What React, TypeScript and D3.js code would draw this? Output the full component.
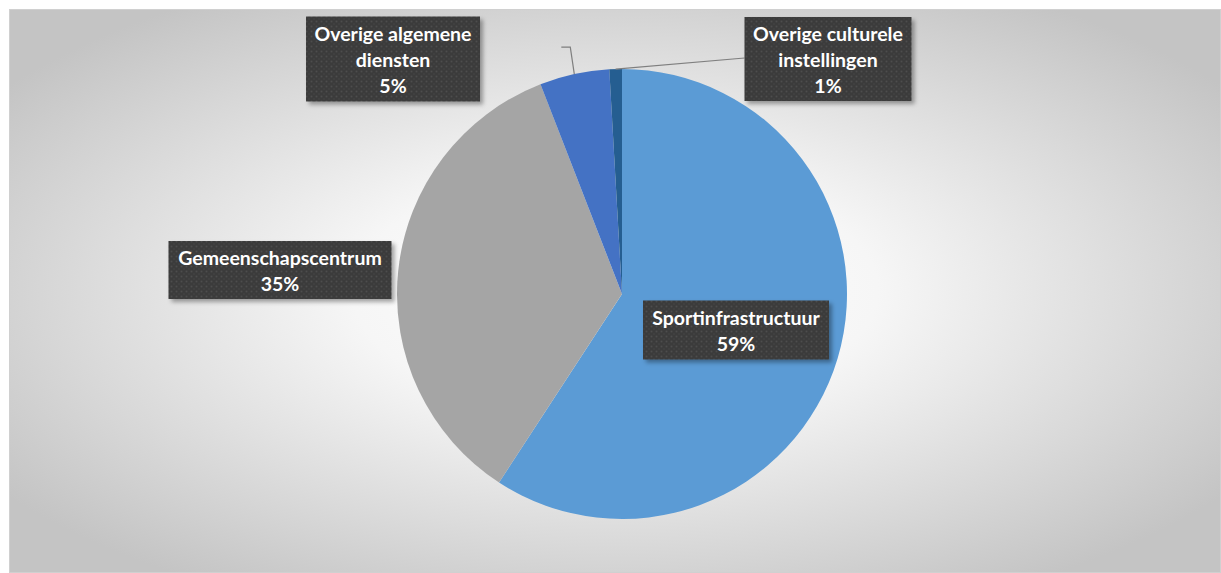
import React from "react";
import * as d3 from "d3";

const categories = [
  "Sportinfrastructuur",
  "Gemeenschapscentrum",
  "Overige algemene diensten",
  "Overige culturele instellingen",
];
const values = [59.2, 34.9, 5.0, 0.9];
const percentLabels = ["59%", "35%", "5%", "1%"];
const labelLines = [
  ["Sportinfrastructuur"],
  ["Gemeenschapscentrum"],
  ["Overige algemene", "diensten"],
  ["Overige culturele", "instellingen"],
];
const colors = ["#5B9BD5", "#A5A5A5", "#4472C4", "#255E91"];

const W = 1221;
const H = 573;
const cx = 622;
const cy = 294;
const R = 225;

// label box layout (center offsets from pie center, box size)
const boxLayout = [
  { dx: 114, dy: 36, w: 186, h: 59 },
  { dx: -342, dy: -24, w: 223, h: 58 },
  { dx: -229, dy: -235, w: 174, h: 85 },
  { dx: 206, dy: -235, w: 167, h: 84 },
];

export default function App() {
  const pie = d3.pie<number>().sort(null).value((d) => d);
  const arcs = pie(values);
  const arcGen = d3.arc<d3.PieArcDatum<number>>().innerRadius(0).outerRadius(R);
  const lineH = 26;

  const edgePoint = (a: d3.PieArcDatum<number>) => {
    const m = (a.startAngle + a.endAngle) / 2;
    return [cx + R * Math.sin(m), cy - R * Math.cos(m)];
  };

  const p2 = edgePoint(arcs[2]);
  const p3 = edgePoint(arcs[3]);
  const b3 = boxLayout[3];
  const leader2 = d3.line()([
    [p2[0], p2[1]],
    [p2[0] - 4, p2[1] - 27],
    [p2[0] - 13, p2[1] - 27],
  ]);
  const leader3 = d3.line()([
    [p3[0], p3[1]],
    [cx + b3.dx - b3.w / 2, cy + b3.dy - 1],
  ]);

  return (
    <svg
      width={W}
      height={H}
      style={{ position: "absolute", left: 0, top: 0, display: "block" }}
      fontFamily="Lato, 'Open Sans', sans-serif"
    >
      <defs>
        <radialGradient id="bg" cx="50%" cy="50%" r="62%" gradientUnits="objectBoundingBox">
          <stop offset="0%" stopColor="#ffffff" />
          <stop offset="35%" stopColor="#f6f6f6" />
          <stop offset="100%" stopColor="#c4c4c4" />
        </radialGradient>
        <pattern id="dots" width="5" height="5" patternUnits="userSpaceOnUse">
          <rect width="5" height="5" fill="#3a3a3a" />
          <circle cx="1.5" cy="1.5" r="1" fill="#4d4d4d" />
          <circle cx="4" cy="4" r="0.8" fill="#454545" />
        </pattern>
        <filter id="shadow" x="-10%" y="-10%" width="130%" height="140%">
          <feDropShadow dx="3" dy="3" stdDeviation="2" floodColor="#000" floodOpacity="0.35" />
        </filter>
      </defs>
      <rect x={0} y={0} width={W} height={H} fill="#ffffff" />
      <rect x={9.5} y={9.5} width={W - 10} height={H - 10} fill="url(#bg)" stroke="#d0d0d0" />

      <g>
        {arcs.map((a, i) => (
          <path
            key={categories[i]}
            d={arcGen(a) || ""}
            transform={`translate(${cx},${cy})`}
            fill={colors[i]}
          />
        ))}
      </g>

      <path d={leader2 || ""} fill="none" stroke="#7f7f7f" strokeWidth={1.2} />
      <path d={leader3 || ""} fill="none" stroke="#7f7f7f" strokeWidth={1.2} />

      {arcs.map((a, i) => {
        const b = boxLayout[i];
        const bx = cx + b.dx - b.w / 2;
        const by = cy + b.dy - b.h / 2;
        const lines = [...labelLines[i], percentLabels[i]];
        const startY = cy + b.dy - ((lines.length - 1) * lineH) / 2;
        return (
          <g key={"lbl" + i}>
            <rect x={bx} y={by} width={b.w} height={b.h} fill="url(#dots)" filter="url(#shadow)" />
            {lines.map((t, j) => (
              <text
                key={j}
                x={cx + b.dx}
                y={startY + j * lineH}
                textAnchor="middle"
                dominantBaseline="central"
                fill="#ffffff"
                fontWeight="bold"
                fontSize={19.5}
              >
                {t}
              </text>
            ))}
          </g>
        );
      })}
    </svg>
  );
}
